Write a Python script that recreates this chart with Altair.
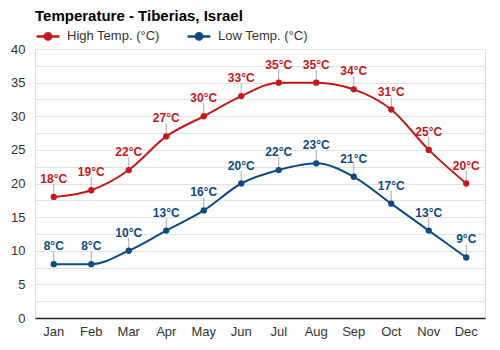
import altair as alt
import pandas as pd

months = ["Jan", "Feb", "Mar", "Apr", "May", "Jun", "Jul", "Aug", "Sep", "Oct", "Nov", "Dec"]
high = [18, 19, 22, 27, 30, 33, 35, 35, 34, 31, 25, 20]
low = [8, 8, 10, 13, 16, 20, 22, 23, 21, 17, 13, 9]
series_names = ["High Temp. (°C)", "Low Temp. (°C)"]
series_colors = ["#c21a1a", "#0e4a84"]
grid_values = [0, 2.5, 5, 7.5, 10, 12.5, 15, 17.5, 20, 22.5, 25, 27.5, 30, 32.5, 35, 37.5, 40]

rows = []
for m, h, l in zip(months, high, low):
    rows.append({"month": m, "temp": h, "series": series_names[0], "label": f"{h}°C"})
    rows.append({"month": m, "temp": l, "series": series_names[1], "label": f"{l}°C"})
df = pd.DataFrame(rows)

yscale = alt.Scale(domain=[0, 40], nice=False)

x = alt.X("month:N", sort=months, title=None,
          scale=alt.Scale(paddingInner=0, paddingOuter=0),
          axis=alt.Axis(labelAngle=0, ticks=False, domain=False, labelFontSize=13,
                        labelColor="#333333", labelPadding=7, labelFont="Liberation Sans",
                        grid=False))
y = alt.Y("temp:Q", title=None, scale=yscale,
          axis=alt.Axis(values=grid_values, labelOverlap=False,
                        labelExpr="datum.value % 5 == 0 ? datum.label : ''",
                        ticks=False, domain=False, labelFontSize=13, labelColor="#333333",
                        labelPadding=10, grid=True,
                        gridColor=alt.condition("datum.value === 0", alt.value("#222222"), alt.value("#e3e3e3")),
                        gridWidth=alt.condition("datum.value === 0", alt.value(1.5), alt.value(1)),
                        labelFont="Liberation Sans"))

color = alt.Color("series:N", sort=series_names,
                  scale=alt.Scale(domain=series_names, range=series_colors),
                  legend=alt.Legend(title=None, orient="none", legendX=0, legendY=-26,
                                    direction="horizontal",
                                    symbolType="M-1,0H1M-0.28,0A0.28,0.28 0 1,0 0.28,0A0.28,0.28 0 1,0 -0.28,0Z",
                                    symbolSize=520, symbolStrokeWidth=2.5,
                                    labelFontSize=13, labelColor="#333333", labelFont="Liberation Sans",
                                    columnPadding=22, labelOffset=6))

base = alt.Chart(df)
stems = base.mark_rule(color="#aaaaaa", strokeWidth=1, y2Offset=-13).encode(
    x=x, y=y, y2="temp:Q")
lines = base.mark_line(interpolate="monotone", strokeWidth=2).encode(x=x, y=y, color=color)
points = base.mark_circle(size=40, opacity=1).encode(x=x, y=y, color=color)
labels = base.mark_text(dy=-14, baseline="alphabetic", fontSize=12, fontWeight="bold",
                        font="Liberation Sans").encode(
    x=x, y=y, text="label:N", color=color)

chart = alt.layer(stems, lines, points, labels).properties(
    width=450, height=269,
    padding={"left": 35, "top": 49, "right": 15, "bottom": 32},
    autosize=alt.AutoSizeParams(type="none"),
    title=alt.TitleParams("Temperature - Tiberias, Israel", anchor="start", frame="group",
                          dx=0, dy=14, offset=13, fontSize=15, fontWeight="bold", color="#000000",
                          font="Liberation Sans"),
).configure_view(stroke=None).configure(background="white")

chart.save("out.html", embed_options={"renderer": "svg", "actions": False})
